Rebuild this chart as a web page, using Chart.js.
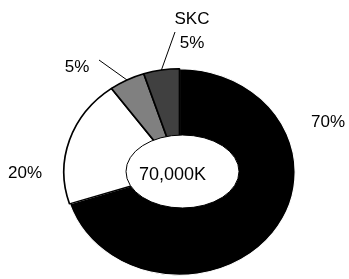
<!DOCTYPE html>
<html>
<head>
<meta charset="utf-8">
<script src="https://cdn.jsdelivr.net/npm/chart.js@4.4.1/dist/chart.umd.min.js"></script>
<style>
html,body{margin:0;padding:0;background:#fff}
#wrap{width:349px;height:279px;position:relative}
</style>
</head>
<body>
<div id="wrap"><canvas id="donut"></canvas></div>
<script>
// data
const categories=['','','','SKC'];
const shares=[70,20,5,5];
const sliceColors=['#000000','#ffffff','#808080','#404040'];
const totalLabel='70,000K';

// layout: label offsets from the ring centre (px), leader line ends
const labelOffsets=[[148.5,-50],[-154.5,1],[-102.5,-105],[12.5,-141]];
const leaderEnds=[null,null,[-80.5,-112],[-4.5,-140]];
const stretchX=1.12;   // ring is a bit wider than tall
const font='17px "Liberation Sans", Arial, sans-serif';

const ellipse={
  id:'ellipse',
  beforeDatasetsDraw(chart){
    const arc=chart.getDatasetMeta(0).data[0];
    const ctx=chart.ctx;
    ctx.save();
    ctx.translate(arc.x,0);ctx.scale(stretchX,1);ctx.translate(-arc.x,0);
  },
  afterDatasetsDraw(chart){
    const ctx=chart.ctx;
    ctx.restore();
    const arc=chart.getDatasetMeta(0).data[0];
    // centre hole
    ctx.save();
    ctx.beginPath();
    ctx.ellipse(arc.x+3,arc.y-0.5,56.5,36.5,0,0,Math.PI*2);
    ctx.fillStyle='#fff';ctx.fill();
    ctx.lineWidth=1;ctx.strokeStyle='#000';ctx.stroke();
    ctx.fillStyle='#000';ctx.font='18px "Liberation Sans", Arial, sans-serif';
    ctx.textAlign='center';ctx.textBaseline='middle';
    ctx.fillText(totalLabel,arc.x-7,arc.y+3.5);
    ctx.restore();
  },
  afterDraw(chart){
    const ctx=chart.ctx;
    const arcs=chart.getDatasetMeta(0).data;
    ctx.save();
    ctx.fillStyle='#000';ctx.font=font;ctx.textAlign='center';ctx.textBaseline='middle';
    arcs.forEach((a,i)=>{
      const [dx,dy]=labelOffsets[i];
      const tx=a.x+dx,ty=a.y+dy;
      const pct=shares[i]+'%';
      if(categories[i]){
        ctx.fillText(categories[i],tx,ty-12);
        ctx.fillText(pct,tx,ty+12);
      }else ctx.fillText(pct,tx,ty);
      if(leaderEnds[i]){
        const mid=(a.startAngle+a.endAngle)/2;
        const r=a.outerRadius;
        ctx.beginPath();
        ctx.moveTo(a.x+stretchX*r*Math.cos(mid),a.y+r*Math.sin(mid));
        ctx.lineTo(a.x+leaderEnds[i][0],a.y+leaderEnds[i][1]);
        ctx.lineWidth=1;ctx.strokeStyle='#000';ctx.stroke();
      }
    });
    ctx.restore();
  }
};

new Chart(document.getElementById('donut'),{
  type:'doughnut',
  data:{
    labels:categories,
    datasets:[{
      data:shares,
      backgroundColor:sliceColors,
      borderColor:['#ffffff','#000000','#000000','#000000'],
      borderWidth:[1,1.5,1.5,1.5],
      hoverOffset:0,
      clip:false
    }]
  },
  options:{
    responsive:true,
    maintainAspectRatio:false,
    animation:false,
    cutout:'33%',
    layout:{padding:{top:68,bottom:3,left:70,right:60}},
    plugins:{legend:{display:false},tooltip:{enabled:false}}
  },
  plugins:[ellipse]
});
</script>
</body>
</html>
